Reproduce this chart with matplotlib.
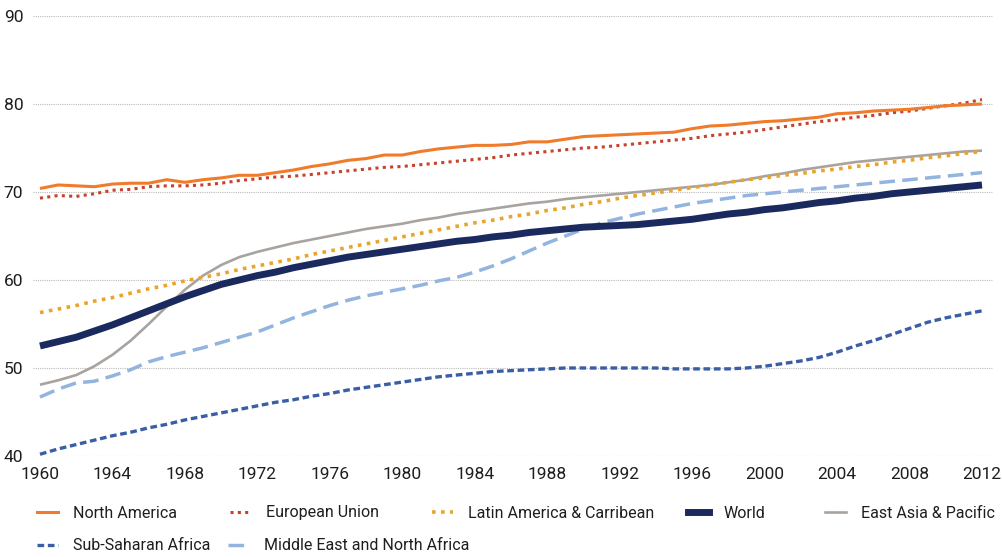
import matplotlib
matplotlib.use("Agg")
import matplotlib.pyplot as plt
from matplotlib.lines import Line2D

years = list(range(1960, 2013))

north_america = [70.4, 70.8, 70.7, 70.6, 70.9, 71.0, 71.0, 71.4, 71.1, 71.4,
                 71.6, 71.9, 71.9, 72.2, 72.5, 72.9, 73.2, 73.6, 73.8, 74.2,
                 74.2, 74.6, 74.9, 75.1, 75.3, 75.3, 75.4, 75.7, 75.7, 76.0,
                 76.3, 76.4, 76.5, 76.6, 76.7, 76.8, 77.2, 77.5, 77.6, 77.8,
                 78.0, 78.1, 78.3, 78.5, 78.9, 79.0, 79.2, 79.3, 79.4, 79.6,
                 79.8, 79.9, 80.0]
european_union = [69.3, 69.6, 69.5, 69.8, 70.2, 70.3, 70.6, 70.7, 70.7, 70.8,
                  71.0, 71.3, 71.5, 71.7, 71.8, 72.0, 72.2, 72.4, 72.6, 72.8,
                  72.9, 73.1, 73.3, 73.5, 73.7, 73.9, 74.2, 74.4, 74.6, 74.8,
                  75.0, 75.1, 75.3, 75.5, 75.7, 75.9, 76.1, 76.4, 76.6, 76.8,
                  77.1, 77.4, 77.7, 78.0, 78.2, 78.5, 78.7, 79.0, 79.2, 79.5,
                  79.8, 80.1, 80.5]
latin_america = [56.3, 56.7, 57.1, 57.6, 58.0, 58.5, 59.0, 59.4, 59.9, 60.3,
                 60.7, 61.2, 61.6, 62.0, 62.4, 62.9, 63.3, 63.7, 64.1, 64.5,
                 64.9, 65.3, 65.7, 66.1, 66.5, 66.8, 67.2, 67.5, 67.9, 68.2,
                 68.6, 68.9, 69.3, 69.6, 69.9, 70.2, 70.5, 70.8, 71.1, 71.4,
                 71.6, 71.9, 72.1, 72.4, 72.6, 72.9, 73.1, 73.4, 73.6, 73.9,
                 74.1, 74.4, 74.6]
world = [52.5, 53.0, 53.5, 54.2, 54.9, 55.7, 56.5, 57.3, 58.1, 58.8,
         59.5, 60.0, 60.5, 60.9, 61.4, 61.8, 62.2, 62.6, 62.9, 63.2,
         63.5, 63.8, 64.1, 64.4, 64.6, 64.9, 65.1, 65.4, 65.6, 65.8,
         66.0, 66.1, 66.2, 66.3, 66.5, 66.7, 66.9, 67.2, 67.5, 67.7,
         68.0, 68.2, 68.5, 68.8, 69.0, 69.3, 69.5, 69.8, 70.0, 70.2,
         70.4, 70.6, 70.8]
east_asia = [48.1, 48.6, 49.2, 50.2, 51.5, 53.1, 55.0, 57.0, 58.9, 60.5,
             61.7, 62.6, 63.2, 63.7, 64.2, 64.6, 65.0, 65.4, 65.8, 66.1,
             66.4, 66.8, 67.1, 67.5, 67.8, 68.1, 68.4, 68.7, 68.9, 69.2,
             69.4, 69.6, 69.8, 70.0, 70.2, 70.4, 70.6, 70.8, 71.1, 71.4,
             71.8, 72.1, 72.5, 72.8, 73.1, 73.4, 73.6, 73.8, 74.0, 74.2,
             74.4, 74.6, 74.7]
sub_saharan = [40.2, 40.8, 41.3, 41.8, 42.3, 42.7, 43.2, 43.6, 44.1, 44.5,
               44.9, 45.3, 45.7, 46.1, 46.4, 46.8, 47.1, 47.5, 47.8, 48.1,
               48.4, 48.7, 49.0, 49.2, 49.4, 49.6, 49.7, 49.8, 49.9, 50.0,
               50.0, 50.0, 50.0, 50.0, 50.0, 49.9, 49.9, 49.9, 49.9, 50.0,
               50.2, 50.5, 50.8, 51.2, 51.8, 52.5, 53.1, 53.8, 54.5, 55.2,
               55.7, 56.1, 56.5]
middle_east = [46.7, 47.6, 48.3, 48.5, 49.1, 49.8, 50.7, 51.3, 51.8, 52.3,
               52.9, 53.5, 54.1, 54.9, 55.7, 56.4, 57.1, 57.7, 58.2, 58.6,
               59.0, 59.4, 59.9, 60.3, 60.9, 61.6, 62.4, 63.3, 64.2, 65.0,
               65.8, 66.5, 67.0, 67.5, 67.9, 68.3, 68.7, 69.0, 69.3, 69.6,
               69.8, 70.0, 70.2, 70.4, 70.6, 70.8, 71.0, 71.2, 71.4, 71.6,
               71.8, 72.0, 72.2]

x_ticks = list(range(1960, 2013, 4))
y_ticks = [40, 50, 60, 70, 80, 90]

# no condensed face available, Roboto at a smaller size keeps the widths close
plt.rcParams["font.family"] = ["Roboto", "DejaVu Sans"]

fig = plt.figure(figsize=(10.03, 5.57), dpi=100)
ax = fig.add_axes([33 / 1003, 101 / 557, 960 / 1003, 440 / 557])

series = [
    ("North America", north_america, dict(color="#F07B2A", lw=2.2, ls="-")),
    ("European Union", european_union, dict(color="#C9402B", lw=2.2, ls=(0, (1, 1.4)))),
    ("Latin America & Carribean", latin_america, dict(color="#E9A42C", lw=2.6, ls=(0, (1, 1.5)))),
    ("World", world, dict(color="#1B2A5E", lw=5.0, ls="-")),
    ("East Asia & Pacific", east_asia, dict(color="#A9A39F", lw=1.9, ls="-")),
    ("Sub-Saharan Africa", sub_saharan, dict(color="#3A5EA6", lw=2.4, ls=(0, (2.0, 1.1)))),
    ("Middle East and North Africa", middle_east, dict(color="#92B4DE", lw=2.5, ls=(0, (4.5, 2.1)))),
]

draw_order = [4, 5, 6, 2, 3, 1, 0]
for i in draw_order:
    name, vals, style = series[i]
    ax.plot(years, vals, solid_capstyle="butt", dash_capstyle="butt", **style)

ax.set_xlim(1959.614, 2012.607)
ax.set_ylim(40, 90)
ax.set_xticks(x_ticks)
ax.set_yticks(y_ticks)
ax.tick_params(length=0, labelsize=12.5, colors="#1E1E1E")
ax.tick_params(axis="x", pad=8)
ax.tick_params(axis="y", pad=7)
for s in ax.spines.values():
    s.set_visible(False)
ax.yaxis.grid(True, color="#BBBBBB", lw=0.8, ls=(0, (1, 1)))
ax.set_axisbelow(True)
ax.patch.set_alpha(0)

# legend laid out like the original: two rows, uneven columns
legend_pos = [
    (37, 513), (230, 513), (432, 513), (688, 513), (825, 513),
    (37, 546), (228, 546),
]
for (px, py), (name, vals, style) in zip(legend_pos, series):
    h = Line2D([], [], **style)
    leg = fig.legend(handles=[h], labels=[name], loc="center left",
                     bbox_to_anchor=(px / 1003, 1 - py / 557), frameon=False,
                     fontsize=11.5, handlelength=1.3, handletextpad=0.95,
                     borderpad=0, borderaxespad=0)
    for t in leg.get_texts():
        t.set_color("#1E1E1E")

fig.savefig("out.png", dpi=100)
